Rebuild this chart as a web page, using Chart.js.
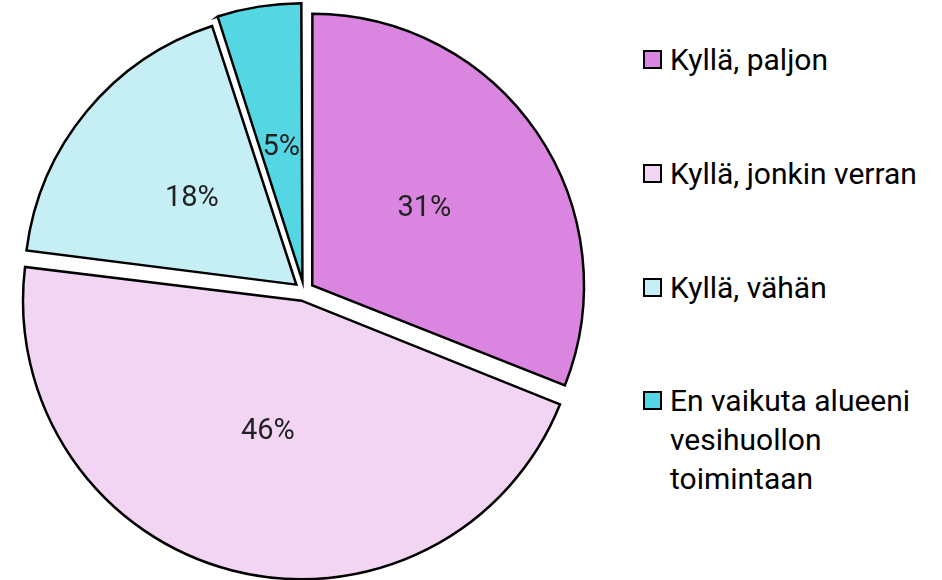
<!DOCTYPE html>
<html>
<head>
<meta charset="utf-8">
<script src="https://cdn.jsdelivr.net/npm/chart.js@4"></script>
<style>
  body { margin: 0; background: #fff; }
  #wrap { position: relative; width: 942px; height: 580px; overflow: hidden; }
  #pie { position: absolute; left: 0; top: 0; width: 608px; height: 580px; }
  #legend { position: absolute; left: 643px; top: 0; font-family: Roboto, sans-serif; font-size: 30px; color: #000; }
  .item { position: absolute; left: 0; white-space: nowrap; line-height: 39px; }
  .box { position: absolute; left: 0; top: 10px; width: 15px; height: 15px; border: 2px solid #000; }
  .txt { position: absolute; left: 27px; top: 0; }
</style>
</head>
<body>
<div id="wrap">
  <div id="pie"><canvas id="c"></canvas></div>
  <div id="legend"></div>
</div>
<script>
const categories = [
  "Kyllä, paljon",
  "Kyllä, jonkin verran",
  "Kyllä, vähän",
  ["En vaikuta alueeni", "vesihuollon", "toimintaan"]
];
const shares = [31, 46, 18, 5];
const colors = ["#DA86E0", "#F2D5F3", "#C6EFF5", "#55D6E3"];

const legendTops = [40, 154, 268, 381];
const legendEl = document.getElementById("legend");
categories.forEach((cat, i) => {
  const item = document.createElement("div");
  item.className = "item";
  item.style.top = legendTops[i] + "px";
  const box = document.createElement("div");
  box.className = "box";
  box.style.background = colors[i];
  const txt = document.createElement("div");
  txt.className = "txt";
  txt.innerHTML = [].concat(cat).join("<br>");
  item.appendChild(box);
  item.appendChild(txt);
  legendEl.appendChild(item);
});

// slices are pushed out by offset/4 px in Chart.js
const EXPLODE = 10;

const pctLabels = {
  id: "pctLabels",
  afterDatasetsDraw(chart) {
    const ctx = chart.ctx;
    const meta = chart.getDatasetMeta(0);
    ctx.save();
    ctx.font = "29px Roboto, sans-serif";
    ctx.fillStyle = "#222";
    ctx.textAlign = "center";
    ctx.textBaseline = "middle";
    meta.data.forEach((arc, i) => {
      const mid = (arc.startAngle + arc.endAngle) / 2;
      const d = arc.outerRadius * 0.5 + EXPLODE;
      ctx.fillText(shares[i] + "%", arc.x + Math.cos(mid) * d, arc.y + Math.sin(mid) * d);
    });
    ctx.restore();
  }
};

new Chart(document.getElementById("c"), {
  type: "pie",
  data: {
    labels: categories.map(c => [].concat(c).join(" ")),
    datasets: [{
      data: shares,
      backgroundColor: colors,
      borderColor: "#000",
      borderWidth: 2.5,
      borderJoinStyle: "miter",
      radius: 271,
      offset: EXPLODE * 4,
      hoverOffset: 0
    }]
  },
  options: {
    animation: false,
    responsive: true,
    maintainAspectRatio: false,
    layout: { padding: { top: 11, bottom: 9, left: 0, right: 0 } },
    plugins: {
      legend: { display: false },
      tooltip: { enabled: false }
    }
  },
  plugins: [pctLabels]
});
</script>
</body>
</html>
